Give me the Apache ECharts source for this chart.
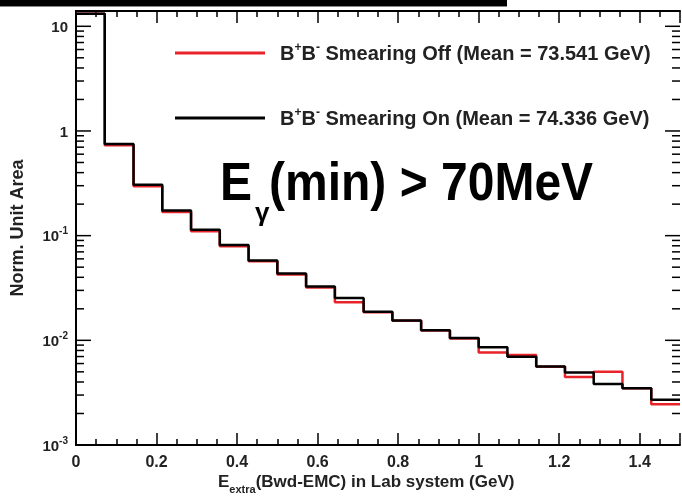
<!DOCTYPE html>
<html>
<head>
<meta charset="utf-8">
<script src="https://cdn.jsdelivr.net/npm/echarts@6/dist/echarts.min.js"></script>
<style>
  html, body { margin: 0; padding: 0; background: #ffffff; }
  #chart { width: 682px; height: 498px; }
</style>
</head>
<body>
<div id="chart"></div>
<script>
// Histogram bin edges of E_extra (GeV), 21 bins over [0, 1.5]
const binEdges = [0, 0.0714, 0.1429, 0.2143, 0.2857, 0.3571, 0.4286, 0.5, 0.5714, 0.6429,
  0.7143, 0.7857, 0.8571, 0.9286, 1.0, 1.0714, 1.1429, 1.2143, 1.2857, 1.3571, 1.4286, 1.5];

// Normalised bin contents, smearing off (red)
const smearingOff = [13.2, 0.73, 0.296, 0.168, 0.110, 0.079, 0.057, 0.0425, 0.032, 0.0231,
  0.0185, 0.0154, 0.0124, 0.0104, 0.00764, 0.00724, 0.0056, 0.00447, 0.00501, 0.00349, 0.00245];

// Normalised bin contents, smearing on (black)
const smearingOn = [13.2, 0.75, 0.306, 0.174, 0.114, 0.0815, 0.058, 0.0435, 0.0327, 0.0254,
  0.0187, 0.0155, 0.0125, 0.0105, 0.00857, 0.00697, 0.00562, 0.00493, 0.00383, 0.00349, 0.00271];

const seriesNames = ['Smearing Off', 'Smearing On'];
const legendMeans = ['73.541', '74.336'];
const xTickLabels = ['0', '0.2', '0.4', '0.6', '0.8', '1', '1.2', '1.4'];

const FONT = 'Liberation Sans, Arial, Helvetica, sans-serif';
const X_MIN = 0, X_MAX = 1.5, Y_MIN = 0.001, Y_MAX = 14;

// Step outline of a histogram: each bin gives a flat segment between its edges
function stepPoints(values) {
  const pts = [];
  for (let i = 0; i < values.length; i++) {
    pts.push([binEdges[i], values[i]]);
    pts.push([binEdges[i + 1], values[i]]);
  }
  return pts;
}

// Log-axis tick positions: decades (major) and 2..9 multiples (minor)
const yTicks = [];
for (let d = -3; d <= 1; d++) {
  for (let m = 1; m <= 9; m++) {
    const v = m * Math.pow(10, d);
    if (v >= Y_MIN && v <= Y_MAX) yTicks.push([0, v, m === 1 ? 1 : 0]);
  }
}

function yLabel(v) {
  const e = Math.round(Math.log10(v));
  if (Math.abs(Math.log10(v) - e) > 1e-6) return '';
  if (e === 1) return '{n|10}';
  if (e === 0) return '{n|1}';
  return '{n|10}{s|' + e + '}';
}

const chart = echarts.init(document.getElementById('chart'), null, { renderer: 'canvas' });

const option = {
  backgroundColor: '#ffffff',
  animation: false,
  grid: { left: 76, right: 2, top: 11, bottom: 53, containLabel: false },
  xAxis: [
    {
      type: 'value', min: X_MIN, max: X_MAX, interval: 0.2,
      axisLine: { show: true, lineStyle: { color: '#000', width: 2 } },
      axisTick: { show: true, inside: true, length: 12, lineStyle: { color: '#000', width: 1.5 } },
      minorTick: { show: true, splitNumber: 4, length: 6, lineStyle: { color: '#000', width: 1.5 } },
      splitLine: { show: false },
      axisLabel: {
        show: true, margin: 10, color: '#222', fontFamily: FONT, fontSize: 16, fontWeight: 'bold',
        showMaxLabel: false,
        formatter: function (v) {
          const k = Math.round(v / 0.2);
          return Math.abs(v - k * 0.2) < 1e-6 && k < xTickLabels.length ? xTickLabels[k] : '';
        }
      }
    },
    {
      type: 'value', min: X_MIN, max: X_MAX, interval: 0.2, position: 'top',
      axisLine: { show: true, lineStyle: { color: '#000', width: 2 } },
      axisTick: { show: true, inside: true, length: 12, lineStyle: { color: '#000', width: 1.5 } },
      minorTick: { show: true, splitNumber: 4, length: 6, lineStyle: { color: '#000', width: 1.5 } },
      splitLine: { show: false },
      axisLabel: { show: false }
    }
  ],
  yAxis: [
    {
      type: 'log', logBase: 10, min: Y_MIN, max: Y_MAX,
      axisLine: { show: true, lineStyle: { color: '#000', width: 2 } },
      axisTick: { show: false },
      splitLine: { show: false },
      axisLabel: {
        show: true, margin: 8, formatter: yLabel,
        rich: {
          n: { fontFamily: FONT, fontSize: 15, fontWeight: 'bold', color: '#222', lineHeight: 18, verticalAlign: 'bottom' },
          s: { fontFamily: FONT, fontSize: 10, fontWeight: 'bold', color: '#222', lineHeight: 10, verticalAlign: 'top' }
        }
      },
      name: 'Norm. Unit Area', nameLocation: 'middle', nameGap: 49, nameRotate: 90,
      nameTextStyle: { fontFamily: FONT, fontSize: 18, fontWeight: 'bold', color: '#222' }
    },
    {
      type: 'log', logBase: 10, min: Y_MIN, max: Y_MAX, position: 'right',
      axisLine: { show: true, lineStyle: { color: '#000', width: 2 } },
      axisTick: { show: false },
      splitLine: { show: false },
      axisLabel: { show: false }
    }
  ],
  legend: {
    left: 170, top: 37, orient: 'vertical', itemGap: 43,
    itemWidth: 90, itemHeight: 3, icon: 'rect',
    data: seriesNames,
    formatter: function (name) {
      const i = seriesNames.indexOf(name);
      return '{t|B}{p|+}{t|B}{p|-}{t| ' + name + ' (Mean = ' + legendMeans[i] + ' GeV)}';
    },
    textStyle: {
      padding: [0, 0, 0, 10],
      rich: {
        t: { fontFamily: FONT, fontSize: 20, fontWeight: 'bold', color: '#222', lineHeight: 22, verticalAlign: 'bottom' },
        p: { fontFamily: FONT, fontSize: 12, fontWeight: 'bold', color: '#222', lineHeight: 12, verticalAlign: 'top' }
      }
    }
  },
  graphic: [
    { type: 'rect', left: 0, top: 0, shape: { width: 507, height: 6 }, style: { fill: '#000' }, z: 100 },
    { type: 'rect', left: 0, top: 6, shape: { width: 507, height: 1 }, style: { fill: '#888' }, z: 100 },
    { type: 'text', left: 220, top: 159, scaleY: 1.1, style: { text: 'E', font: 'bold 48px ' + FONT, fill: '#000' }, z: 100 },
    { type: 'text', left: 255, top: 201, style: { text: 'γ', font: 'bold 26px ' + FONT, fill: '#000' }, z: 100 },
    { type: 'text', left: 269, top: 159, scaleY: 1.1, style: { text: '(min) > 70MeV', font: 'bold 48px ' + FONT, fill: '#000' }, z: 100 },
    {
      // x-axis title with subscript
      type: 'text', left: 218, top: 474, z: 100,
      style: {
        text: '{m|E}{sub|extra}{m|(Bwd-EMC) in Lab system (GeV)}',
        rich: {
          m: { fontFamily: FONT, fontSize: 17, fontWeight: 'bold', fill: '#222', lineHeight: 17, verticalAlign: 'top' },
          sub: { fontFamily: FONT, fontSize: 11, fontWeight: 'bold', fill: '#222', lineHeight: 11, verticalAlign: 'top', padding: [10, 0, 0, 0] }
        }
      }
    }
  ],
  series: [
    {
      name: seriesNames[0], type: 'line', data: stepPoints(smearingOff),
      symbol: 'none', showSymbol: false, clip: true,
      lineStyle: { color: '#e8242a', width: 2.5 }, itemStyle: { color: '#e8242a' },
      z: 2
    },
    {
      name: seriesNames[1], type: 'line', data: stepPoints(smearingOn),
      symbol: 'none', showSymbol: false, clip: true,
      lineStyle: { color: '#000000', width: 2.5 }, itemStyle: { color: '#000000' },
      z: 3
    },
    {
      // Tick marks on the left and right log axes
      type: 'custom', coordinateSystem: 'cartesian2d', silent: true, z: 5,
      data: yTicks,
      renderItem: function (params, api) {
        const v = api.value(1);
        const major = api.value(2) === 1;
        const len = major ? 15 : 8;
        const pl = api.coord([X_MIN, v]);
        const pr = api.coord([X_MAX, v]);
        const st = { stroke: '#000', lineWidth: 1.5 };
        return {
          type: 'group',
          children: [
            { type: 'line', shape: { x1: pl[0], y1: pl[1], x2: pl[0] + len, y2: pl[1] }, style: st },
            { type: 'line', shape: { x1: pr[0], y1: pr[1], x2: pr[0] - len, y2: pr[1] }, style: st }
          ]
        };
      }
    }
  ]
};

chart.setOption(option);
</script>
</body>
</html>
